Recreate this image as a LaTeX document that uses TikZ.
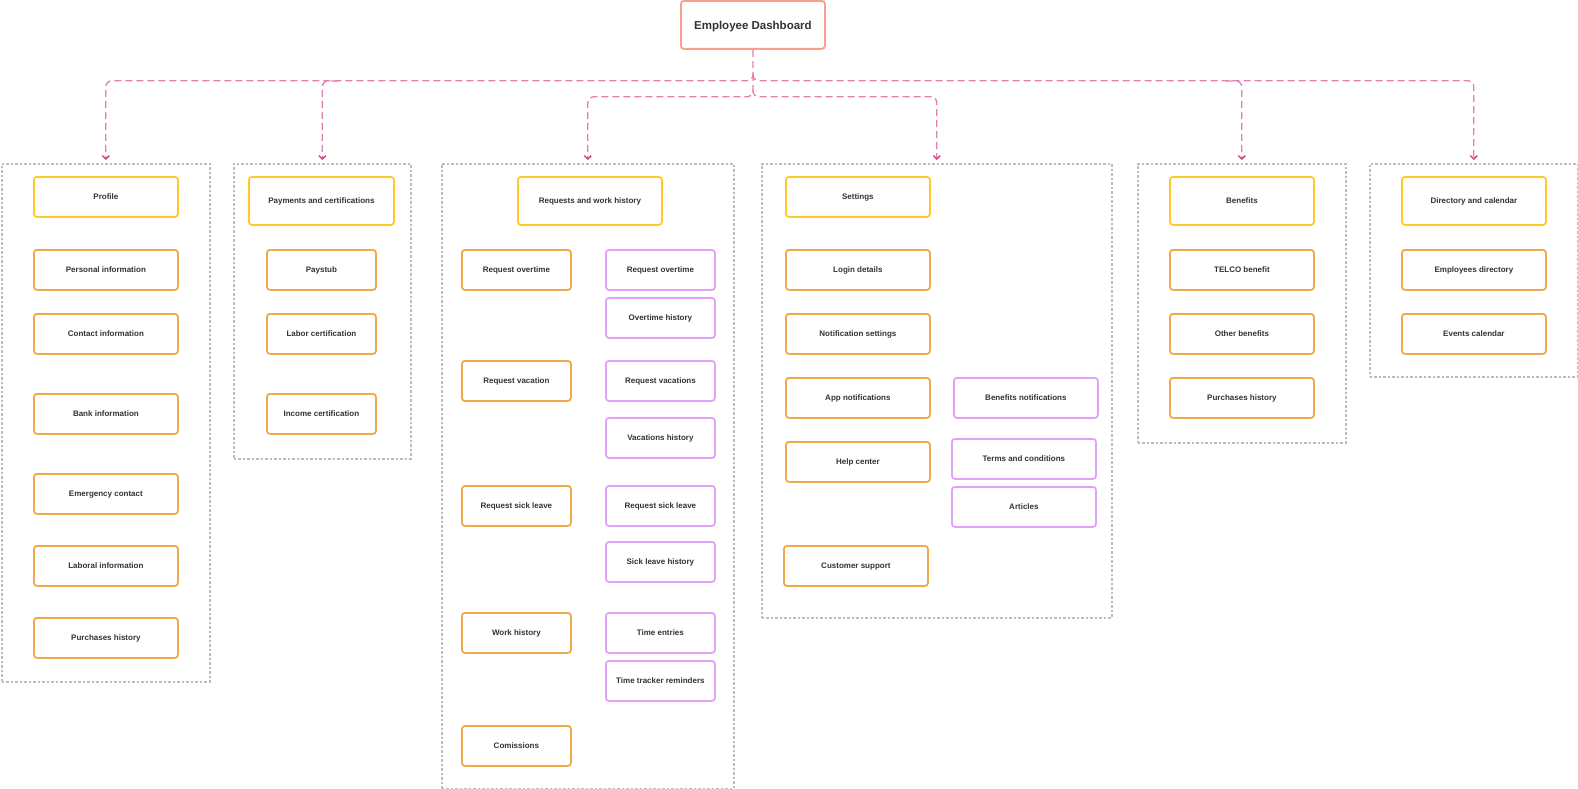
\documentclass[tikz,border=0pt]{standalone}
\usepackage{fontspec}
\setmainfont{Liberation Sans}
\usetikzlibrary{arrows.meta}
\definecolor{salmon}{HTML}{F7A08C}
\definecolor{yel}{HTML}{FFC928}
\definecolor{org}{HTML}{EFA84A}
\definecolor{pur}{HTML}{E0A3F5}
\definecolor{pinkl}{HTML}{E27FB0}
\definecolor{pinkd}{HTML}{D6377F}
\definecolor{grayc}{HTML}{BDBDBD}
\definecolor{txt}{HTML}{333333}
\tikzset{
  wh/.style 2 args={minimum width=#1, minimum height=#2},
  base/.style={draw, rounded corners=3pt, line width=1.8pt, fill=white, text=txt,
    font=\bfseries\fontsize{8}{9}\selectfont, inner sep=0pt, text height=5.8pt, text depth=0pt,
    anchor=north west},
  ybox/.style={base, draw=yel},
  obox/.style={base, draw=org},
  pbox/.style={base, draw=pur},
  dashbox/.style={base, draw=salmon, font=\bfseries\fontsize{11.5}{13}\selectfont, text height=8.3pt},
  cont/.style={draw=grayc, line width=1.6pt, dash pattern=on 2.5pt off 2pt, inner sep=0pt, anchor=north west},
  conn/.style={draw=pinkl, line width=1.3pt, dash pattern=on 7pt off 4pt, rounded corners=6pt,
    -{Straight Barb[length=3.5pt,width=7pt,color=pinkd,line width=1.3pt]}, shorten >=3pt}
}
\begin{document}
\begin{tikzpicture}[x=1pt,y=-1pt]
\useasboundingbox (0,0) rectangle (1578,789);
% containers
\node[cont, wh={208pt}{518pt}] (c1) at (1,163) {};
\node[cont, wh={177pt}{295pt}] (c2) at (233,163) {};
\node[cont, wh={292pt}{625pt}] (c3) at (441,163) {};
\node[cont, wh={350pt}{454pt}] (c4) at (761,163) {};
\node[cont, wh={208pt}{279pt}] (c5) at (1137,163) {};
\node[cont, wh={208pt}{213pt}] (c6) at (1369,163) {};
% dashboard
\node[dashbox, wh={144pt}{48pt}] (dash) at (680,0) {Employee Dashboard};
% column 1
\node[ybox, wh={144pt}{40pt}] (profile) at (33,176) {Profile};
\node[obox, wh={144pt}{40pt}] (personal) at (33,249) {Personal information};
\node[obox, wh={144pt}{40pt}] (contact) at (33,313) {Contact information};
\node[obox, wh={144pt}{40pt}] (bank) at (33,393) {Bank information};
\node[obox, wh={144pt}{40pt}] (emerg) at (33,473) {Emergency contact};
\node[obox, wh={144pt}{40pt}] (laboral) at (33,545) {Laboral information};
\node[obox, wh={144pt}{40pt}] (purch1) at (33,617) {Purchases history};
% column 2
\node[ybox, wh={145pt}{48pt}] (pay) at (248,176) {Payments and certifications};
\node[obox, wh={109pt}{40pt}] (paystub) at (266,249) {Paystub};
\node[obox, wh={109pt}{40pt}] (labor) at (266,313) {Labor certification};
\node[obox, wh={109pt}{40pt}] (income) at (266,393) {Income certification};
% column 3
\node[ybox, wh={144pt}{48pt}] (req) at (517,176) {Requests and work history};
\node[obox, wh={109pt}{40pt}] (rot) at (461,249) {Request overtime};
\node[pbox, wh={109pt}{40pt}] (rotp) at (605,249) {Request overtime};
\node[pbox, wh={109pt}{40pt}] (oth) at (605,297) {Overtime history};
\node[obox, wh={109pt}{40pt}] (rvac) at (461,360) {Request vacation};
\node[pbox, wh={109pt}{40pt}] (rvacp) at (605,360) {Request vacations};
\node[pbox, wh={109pt}{40pt}] (vach) at (605,417) {Vacations history};
\node[obox, wh={109pt}{40pt}] (rsick) at (461,485) {Request sick leave};
\node[pbox, wh={109pt}{40pt}] (rsickp) at (605,485) {Request sick leave};
\node[pbox, wh={109pt}{40pt}] (sickh) at (605,541) {Sick leave history};
\node[obox, wh={109pt}{40pt}] (workh) at (461,612) {Work history};
\node[pbox, wh={109pt}{40pt}] (timee) at (605,612) {Time entries};
\node[pbox, wh={109pt}{40pt}] (timet) at (605,660) {Time tracker reminders};
\node[obox, wh={109pt}{40pt}] (comis) at (461,725) {Comissions};
% column 4
\node[ybox, wh={144pt}{40pt}] (settings) at (785,176) {Settings};
\node[obox, wh={144pt}{40pt}] (login) at (785,249) {Login details};
\node[obox, wh={144pt}{40pt}] (notif) at (785,313) {Notification settings};
\node[obox, wh={144pt}{40pt}] (appn) at (785,377) {App notifications};
\node[pbox, wh={144pt}{40pt}] (benn) at (953,377) {Benefits notifications};
\node[obox, wh={144pt}{40pt}] (help) at (785,441) {Help center};
\node[pbox, wh={144pt}{40pt}] (terms) at (951,438) {Terms and conditions};
\node[pbox, wh={144pt}{40pt}] (arts) at (951,486) {Articles};
\node[obox, wh={144pt}{40pt}] (cust) at (783,545) {Customer support};
% column 5
\node[ybox, wh={144pt}{48pt}] (benef) at (1169,176) {Benefits};
\node[obox, wh={144pt}{40pt}] (telco) at (1169,249) {TELCO benefit};
\node[obox, wh={144pt}{40pt}] (other) at (1169,313) {Other benefits};
\node[obox, wh={144pt}{40pt}] (purch2) at (1169,377) {Purchases history};
% column 6
\node[ybox, wh={144pt}{48pt}] (dir) at (1401,176) {Directory and calendar};
\node[obox, wh={144pt}{40pt}] (empd) at (1401,249) {Employees directory};
\node[obox, wh={144pt}{40pt}] (evc) at (1401,313) {Events calendar};
% connectors
\path (dash.south) ++(0,31) coordinate (j1);
\path (dash.south) ++(0,47) coordinate (j2);
\path (dash.south) ++(0,24) coordinate (t1);
\path (dash.south) ++(0,40) coordinate (t2);
\coordinate (b2) at (338,81);
\coordinate (b5) at (1226,81);
\draw[conn] (dash.south) -- (j1) -| (c1.north);
\draw[conn] (b2) -| (c2.north);
\draw[conn] (t1) -- (j2) -| (c3.north);
\draw[conn] (t2) -- (j2) -| (c4.north);
\draw[conn] (b5) -| (c5.north);
\draw[conn] (t1) -- (j1) -| (c6.north);
\end{tikzpicture}
\end{document}
